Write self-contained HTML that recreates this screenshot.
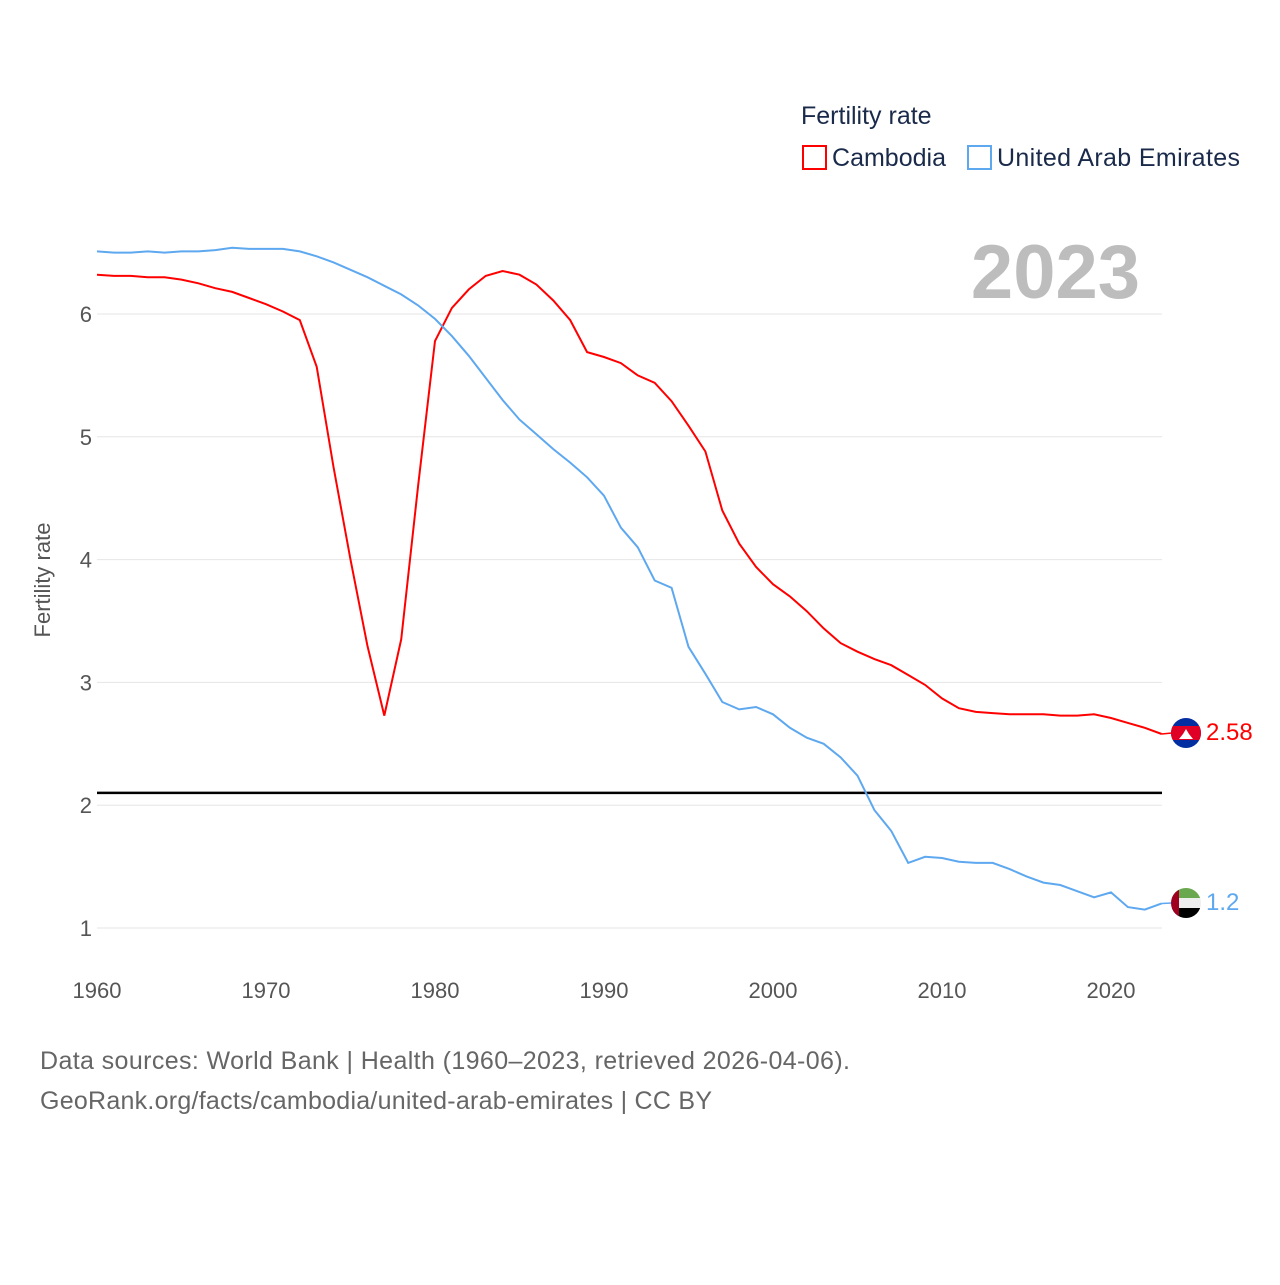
<!DOCTYPE html>
<html><head><meta charset="utf-8"><style>
body{margin:0;background:#fff;font-family:"Liberation Sans",sans-serif}
svg text{font-family:"Liberation Sans",sans-serif}
</style></head><body>
<svg width="1280" height="1280" xmlns="http://www.w3.org/2000/svg">
<defs>
<clipPath id="c1"><circle cx="1186" cy="733" r="15"/></clipPath>
<clipPath id="c2"><circle cx="1186" cy="903" r="15"/></clipPath>
</defs>
<g id="grid"></g>
<g id="yticks"></g>
<g id="xticks"></g>
<text x="50" y="580" transform="rotate(-90 50 580)" text-anchor="middle" font-size="22" fill="#555">Fertility rate</text>
<text x="1140" y="298" text-anchor="end" font-size="76" font-weight="bold" fill="#bdbdbd">2023</text>
<line id="ref" x1="97" x2="1162" stroke="#000" stroke-width="2.5"/>
<g id="series"></g>
<g>
<text x="801" y="124" font-size="25" fill="#1a2a4a">Fertility rate</text>
<g><rect x="803" y="146" width="23" height="23" fill="#fff" stroke="#f00" stroke-width="2"/><text x="832" y="166" font-size="25" fill="#1a2a4a" textLength="114">Cambodia</text></g>
<g><rect x="968" y="146" width="23" height="23" fill="#fff" stroke="#5ea8f0" stroke-width="2"/><text x="997" y="166" font-size="25" fill="#1a2a4a" textLength="243">United Arab Emirates</text></g>
</g>
<g clip-path="url(#c1)">
<rect x="1170" y="717" width="32" height="32" fill="#032ea1"/><rect x="1170" y="726" width="32" height="14" fill="#e00025"/>
<polygon points="1179,739 1193,739 1189,734 1186,729 1183,734" fill="#fff"/></g>
<g clip-path="url(#c2)">
<rect x="1170" y="887" width="32" height="11" fill="#6aa84f"/><rect x="1170" y="898" width="32" height="10" fill="#eee"/><rect x="1170" y="908" width="32" height="11" fill="#000"/><rect x="1170" y="887" width="9" height="32" fill="#a00020"/></g>
<text x="1206" y="740" font-size="24" fill="#f00">2.58</text>
<text x="1206" y="910" font-size="24" fill="#5ea8f0">1.2</text>
<text x="40" y="1069" font-size="25" fill="#666" textLength="810">Data sources: World Bank | Health (1960–2023, retrieved 2026-04-06).</text>
<text x="40" y="1109" font-size="25" fill="#666" textLength="672">GeoRank.org/facts/cambodia/united-arab-emirates | CC BY</text>
</svg>
<script>
const years=[];for(let y=1960;y<=2023;y++)years.push(y);
const cambodia=[6.32,6.31,6.31,6.30,6.30,6.28,6.25,6.21,6.18,6.13,6.08,6.02,5.95,5.57,4.75,4.0,3.3,2.73,3.35,4.6,5.78,6.05,6.20,6.31,6.35,6.32,6.24,6.11,5.95,5.69,5.65,5.60,5.50,5.44,5.29,5.09,4.88,4.40,4.13,3.94,3.80,3.70,3.58,3.44,3.32,3.25,3.19,3.14,3.06,2.98,2.87,2.79,2.76,2.75,2.74,2.74,2.74,2.73,2.73,2.74,2.71,2.67,2.63,2.58];
const uae=[6.51,6.50,6.50,6.51,6.50,6.51,6.51,6.52,6.54,6.53,6.53,6.53,6.51,6.47,6.42,6.36,6.30,6.23,6.16,6.07,5.96,5.82,5.66,5.48,5.30,5.14,5.02,4.90,4.79,4.67,4.52,4.26,4.10,3.83,3.77,3.29,3.07,2.84,2.78,2.80,2.74,2.63,2.55,2.50,2.39,2.24,1.96,1.79,1.53,1.58,1.57,1.54,1.53,1.53,1.48,1.42,1.37,1.35,1.30,1.25,1.29,1.17,1.15,1.20];
const yTicks=[1,2,3,4,5,6];
const xTicks=[1960,1970,1980,1990,2000,2010,2020];
const refValue=2.1;
const NS='http://www.w3.org/2000/svg';
const xs=y=>97+(y-1960)*(1111-97)/60;
const ys=v=>928-(v-1)*(928-314)/5;
function mk(tag,attrs,parent){const e=document.createElementNS(NS,tag);for(const k in attrs)e.setAttribute(k,attrs[k]);parent.appendChild(e);return e;}
const grid=document.getElementById('grid'),yt=document.getElementById('yticks'),xt=document.getElementById('xticks');
yTicks.forEach(v=>{
 const l=mk('line',{x1:97,x2:1162,y1:ys(v),y2:ys(v),stroke:'#e6e6e6','stroke-width':1},grid);
 
 
 const t=mk('text',{x:92,y:ys(v)+8,'text-anchor':'end','font-size':22,fill:'#555'},yt);t.textContent=v;
 
 
});
xTicks.forEach(v=>{
 const t=mk('text',{x:xs(v),y:998,'text-anchor':'middle','font-size':22,fill:'#555'},xt);t.textContent=v;
 
 
});
const r=document.getElementById('ref');r.setAttribute('y1',ys(refValue));r.setAttribute('y2',ys(refValue));
const s=document.getElementById('series');
[[cambodia,'#f00','cambodia-line',733],[uae,'#5ea8f0','uae-line',903]].forEach(([d,c,n,fy])=>{
 const p=mk('path',{d:d.map((v,i)=>(i?'L':'M')+xs(years[i]).toFixed(1)+','+ys(v).toFixed(1)).join(''),fill:'none',stroke:c,'stroke-width':2},s);
 
 
 const last=d[d.length-1];
 const c2=mk('line',{x1:xs(2023),y1:ys(last),x2:1172,y2:fy,stroke:c,'stroke-width':1.5},s);
 
 
});
</script>
</body></html>
